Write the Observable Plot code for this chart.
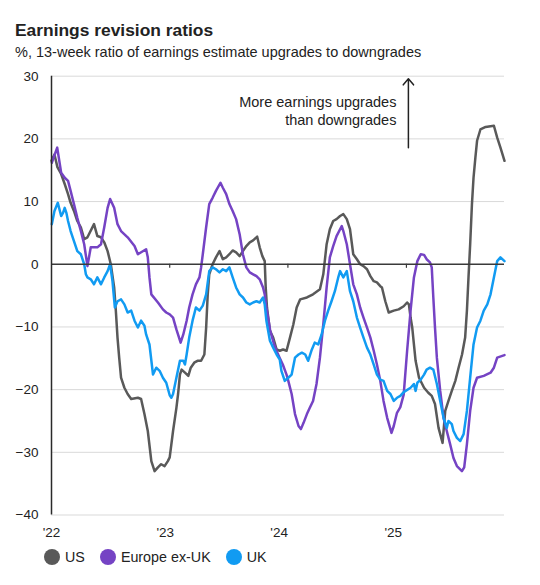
<!DOCTYPE html>
<html>
<head>
<meta charset="utf-8">
<script src="https://cdn.jsdelivr.net/npm/d3@7"></script>
<script src="https://cdn.jsdelivr.net/npm/@observablehq/plot@0.6"></script>
<style>
  body { margin: 0; background: #fff; font-family: "Liberation Sans", Arial, sans-serif; color: #222; }
  #wrap { position: relative; width: 540px; height: 585px; overflow: hidden; }
  #title { position: absolute; left: 15px; top: 20px; font-size: 17.4px; line-height: 20px; font-weight: bold; white-space: nowrap; }
  #subtitle { position: absolute; left: 15px; top: 44px; font-size: 14.5px; line-height: 17px; white-space: nowrap; }
  #chart { position: absolute; left: 0; top: 62px; }
  #legend { position: absolute; left: 44px; top: 549px; display: flex; align-items: center; height: 16px; font-size: 14.3px; }
  .item { display: flex; align-items: center; margin-right: 15px; }
  .dot { width: 16px; height: 16px; border-radius: 50%; margin-right: 5px; }
</style>
</head>
<body>
<div id="wrap">
  <div id="title">Earnings revision ratios</div>
  <div id="subtitle">%, 13-week ratio of earnings estimate upgrades to downgrades</div>
  <div id="chart"></div>
  <div id="legend"></div>
</div>
<script>
// Series names and colours
const seriesNames = ["US", "Europe ex-UK", "UK"];
const seriesColors = ["#595959", "#7543C4", "#119BF2"];

// Time positions are months after 1 Jan 2022 (fractional), values in %
const usMonths = [0,0.3,0.6,0.98,1.32,1.66,2,2.34,2.68,3.02,3.36,3.69,4.37,4.71,5.06,5.39,5.73,6.07,6.41,6.58,6.75,6.92,7.09,7.43,7.76,8.1,8.78,9.12,9.46,9.8,10.14,10.47,10.81,11.15,11.5,11.83,12,12.34,12.68,12.85,13.02,13.19,13.53,13.87,14.2,14.55,14.88,15.23,15.56,15.74,15.9,16.07,16.41,16.75,17.09,17.43,17.77,18.11,18.44,18.79,19.13,19.46,19.81,20.14,20.48,20.89,21.16,21.43,21.67,21.77,21.9,22.18,22.51,22.86,23.19,23.53,23.88,24.21,24.55,24.89,25.23,25.91,26.58,27.26,27.6,27.94,28.28,28.62,28.96,29.3,29.63,29.98,30.32,30.65,31,31.33,31.67,32.01,32.35,32.69,33.03,33.37,33.54,33.88,34.21,34.72,35.23,35.74,36.07,36.25,36.42,36.59,36.76,36.93,37.26,37.77,38.28,38.63,38.96,39.3,39.71,39.98,40.32,40.66,41,41.33,41.68,42.01,42.19,42.35,42.52,42.7,42.86,43.03,43.2,43.54,44.05,44.89,45.24,45.57,45.98];
const usValues = [16.5,17.5,15.5,14.4,12.8,11.2,9.8,8.5,6.9,5.9,4.0,4.3,6.4,4.5,4.3,3.5,2.1,0,-3.7,-7.4,-11.7,-14.9,-18.1,-19.7,-20.7,-21.5,-21.3,-21.5,-23.9,-26.6,-31.4,-33,-32.4,-31.9,-32.2,-31.4,-30.8,-26.6,-22.9,-20.7,-17.6,-16.8,-17.3,-17.8,-16.5,-15.7,-15.4,-15.4,-14.4,-10.1,-4.8,-1.6,0,1.1,2.1,0.8,1.1,1.6,2.2,1.9,1.3,2.1,2.9,3.5,3.8,4.4,2.7,1.3,0.5,-3.7,-6.9,-10.6,-11.7,-13.6,-13.8,-13.6,-13.8,-11.7,-9.6,-6.9,-5.6,-5.3,-4.8,-4.0,-1.6,3.2,5.6,6.9,7.2,7.7,8.0,7.2,5.6,1.6,0.8,0,-0.3,-0.8,-1.9,-2.7,-2.9,-3.5,-3.7,-5.9,-7.7,-7.4,-7.2,-6.7,-6.1,-6.4,-8.5,-10.1,-12.8,-15.4,-18.1,-19.7,-20.5,-21.0,-22.3,-26.1,-28.5,-23.4,-21.8,-20.2,-18.6,-16.5,-14.4,-11.7,-7.4,-2.1,3.2,9.6,13.8,17.0,19.7,21.5,21.9,22.1,20.2,18.6,16.5];

const euMonths = [0.03,0.58,0.98,1.32,1.66,2,2.34,2.68,3.02,3.36,3.69,4.04,4.71,5.06,5.39,5.73,6,6.41,6.75,7.09,7.76,8.44,8.78,9.63,9.8,9.97,10.14,10.81,11.33,11.67,12,12.34,12.68,13.09,13.36,13.7,14.04,14.38,14.72,15.06,15.23,15.4,15.74,16.07,16.41,16.75,17.19,17.43,17.77,18.11,18.44,18.79,19.13,19.46,19.81,20.14,20.48,20.82,21.16,21.5,21.67,21.84,22.2,22.6,22.9,23.2,23.5,23.88,24.04,24.38,24.72,25.06,25.3,25.57,25.91,26.25,26.58,26.93,27.26,27.6,27.94,28.28,28.62,28.96,29.47,29.63,29.98,30.32,30.65,31,31.33,31.67,32.01,32.35,32.69,33.03,33.37,33.7,34.05,34.49,34.72,35.06,35.4,35.74,36.07,36.42,36.76,37.09,37.43,37.77,38.11,38.45,38.63,38.79,38.96,39.13,39.47,39.81,40.15,40.49,40.83,41.16,41.67,41.9,42.19,42.52,42.86,43.2,43.88,44.55,44.89,45.24,45.98];
const euValues = [16.2,18.6,14.6,13.8,13.3,11.7,9.6,7.4,5.3,3.2,-0.3,2.7,2.7,3.2,5.9,9.0,10.4,9.0,6.4,5.3,4.3,2.9,1.6,2.4,1.1,-2.1,-4.8,-6.1,-7.2,-7.7,-8.0,-8.5,-10.4,-12.5,-11.2,-9.0,-6.9,-4.8,-3.2,-2.1,-0.5,1.6,5.9,9.6,10.6,11.7,13.0,12.2,11.2,9.6,8.5,7.2,4.8,1.6,-0.5,-1.3,-1.6,-1.9,-2.4,-3.7,-4.8,-6.9,-10.5,-12.8,-14.0,-15.0,-16.0,-17.6,-18.6,-20.7,-23.9,-25.8,-26.3,-25.3,-23.9,-22.9,-21.8,-19.1,-14.9,-9.6,-3.7,1.1,2.9,4.5,6.1,5.3,3.2,0,-3.2,-4.8,-6.9,-8.5,-10.1,-11.7,-13.8,-16.0,-18.6,-21.8,-24.5,-26.9,-25.8,-23.7,-22.8,-20.8,-13.8,-7.4,-2.1,0.5,1.6,1.5,0.8,0.3,-0.5,-5.3,-10.1,-14.9,-20.2,-24.5,-26.6,-28.7,-30.9,-32.2,-33.0,-32.4,-28.7,-23.4,-19.7,-18.1,-17.8,-17.3,-16.5,-14.9,-14.5];

const ukMonths = [0.03,0.3,0.64,0.98,1.15,1.32,1.49,1.66,2,2.34,2.68,3.02,3.36,3.53,3.69,4.04,4.37,4.71,5.06,5.39,5.73,6,6.24,6.48,6.75,7.09,7.43,7.76,8.1,8.44,8.78,9.12,9.46,9.63,9.97,10.31,10.64,10.98,11.33,11.67,12,12.17,12.34,12.68,13.02,13.36,13.53,13.7,14.04,14.38,14.72,15.06,15.4,15.74,16.07,16.41,16.75,17.09,17.43,17.77,18.11,18.44,18.79,19.13,19.47,19.81,20.14,20.48,20.82,21.16,21.5,21.67,21.84,22,22.18,22.51,22.86,23.19,23.36,23.7,24.04,24.38,24.72,25.06,25.4,25.74,26.08,26.41,26.75,27.09,27.43,27.77,28.11,28.45,28.79,29.13,29.3,29.63,29.98,30.32,30.65,31,31.33,31.67,32.01,32.35,32.69,33.03,33.37,33.7,34.05,34.38,34.72,35.06,35.4,35.74,36.42,36.76,36.93,37.09,37.43,37.77,38.11,38.45,38.79,39.13,39.47,39.81,40.15,40.32,40.66,40.83,41.16,41.5,41.84,42.19,42.52,42.86,43.2,43.54,43.88,44.22,44.55,44.89,45.24,45.57,45.98];
const ukValues = [6.4,8.5,9.8,7.7,8.2,9.0,8.2,6.9,5.3,3.7,2.1,1.6,0,-1.6,-2.1,-2.4,-3.2,-2.1,-3.2,-2.1,-1.1,0,-2.7,-6.9,-5.9,-5.6,-6.4,-7.7,-7.4,-9.0,-10.1,-9.0,-9.8,-11.2,-12.8,-17.6,-16.5,-17.0,-18.1,-18.9,-20.9,-21.3,-20.7,-18.1,-15.4,-15.4,-16.0,-14.4,-11.7,-9.0,-6.9,-7.4,-6.6,-4.8,-1.1,-0.5,-0.8,-1.3,-0.8,-1.1,-0.5,-2.1,-3.7,-4.8,-5.3,-6.1,-6.4,-6.1,-5.9,-6.1,-5.3,-6.4,-9.0,-10.6,-12.2,-13.3,-14.4,-15.2,-17.0,-18.6,-18.1,-17.6,-14.9,-14.4,-14.1,-14.4,-15.4,-13.8,-12.5,-12.8,-11.2,-9.0,-7.4,-5.9,-4.3,-2.0,-1.1,-2.1,-1.1,-4.3,-5.9,-8.5,-10.1,-11.7,-13.3,-14.4,-16.0,-17.6,-18.4,-18.6,-20.2,-20.7,-21.8,-21.3,-21.0,-20.4,-19.7,-19.1,-20.2,-18.9,-18.4,-17.6,-16.8,-16.5,-16.8,-19.1,-21.8,-24.5,-26.1,-25.0,-25.5,-26.6,-27.7,-28.2,-27.1,-23.4,-18.1,-12.8,-10.1,-9.0,-7.4,-6.4,-4.8,-2.1,0.5,1.1,0.5];

// Axis ticks and labels
const yTicks = [30, 20, 10, 0, -10, -20, -30, -40];
const yearTicks = ["2022-01-01", "2023-01-01", "2024-01-01", "2025-01-01"];
const yearLabels = ["'22", "'23", "'24", "'25"];

// Annotation (months after 1 Jan 2022, value in %)
const noteText = "More earnings upgrades\nthan downgrades";
const noteMonth = 35.0, noteValue = 24.5;
const arrowMonth = 36.2, arrowFrom = 18.6, arrowTo = 29.6;

const toDate = m => {
  const w = Math.floor(m);
  return new Date(Date.UTC(2022, w, 1) + (m - w) * 30.44 * 864e5);
};

const rows = [];
[[usMonths, usValues], [euMonths, euValues], [ukMonths, ukValues]].forEach(([ms, vs], i) => {
  ms.forEach((m, j) => rows.push({series: seriesNames[i], date: toDate(m), value: vs[j]}));
});

const xStart = new Date("2022-01-01");
const xEnd = d3.max(rows, d => d.date);
const years = yearTicks.map(s => new Date(s));
const font = "'Liberation Sans', Arial, sans-serif";

const chart = Plot.plot({
  width: 540,
  height: 482,
  marginLeft: 51,
  marginRight: 36,
  marginTop: 13.7,
  marginBottom: 29.5,
  style: {fontFamily: font, fontSize: "13.5px", color: "#222", background: "transparent"},
  x: {type: "utc", domain: [xStart, xEnd], axis: null},
  y: {domain: [-40, 30], axis: null},
  color: {domain: seriesNames, range: seriesColors},
  marks: [
    Plot.ruleY(yTicks.filter(v => v !== 0), {stroke: "#d9d9d9", strokeWidth: 1}),
    Plot.axisY(yTicks, {tickSize: 0, tickPadding: 13, fontSize: 13.5, label: null, fill: "#222"}),
    ...years.map((d, i) => Plot.text([{d, t: yearLabels[i]}], {
      x: "d", y: () => -40, text: "t", dy: 18, dx: -4.4 * i,
      fontSize: 13.5, fill: "#222", textAnchor: "middle"
    })),
    Plot.line(rows, {
      x: "date", y: "value", z: "series", stroke: "series",
      strokeWidth: 2.5, strokeLinejoin: "round", strokeLinecap: "round"
    }),
    Plot.ruleY([0], {stroke: "#3a3a3a", strokeWidth: 1.5}),
    Plot.ruleX(years.slice(1).map(d => ({d, y1: 0, y2: -0.65})), {x: "d", y1: "y1", y2: "y2", stroke: "#3a3a3a", strokeWidth: 1.2}),
    Plot.ruleX([xStart], {stroke: "#2a2a2a", strokeWidth: 1.5}),
    Plot.text([{d: toDate(noteMonth), v: noteValue, t: noteText}], {
      x: "d", y: "v", text: "t", textAnchor: "end", lineAnchor: "middle",
      lineHeight: 1.24, fontSize: 14.5, fill: "#222"
    }),
    Plot.arrow([{d: toDate(arrowMonth), a: arrowFrom, b: arrowTo}], {
      x1: "d", x2: "d", y1: "a", y2: "b", stroke: "#222", strokeWidth: 1.5,
      headAngle: 80, headLength: 8
    })
  ]
});
document.getElementById("chart").appendChild(chart);

const legend = document.getElementById("legend");
seriesNames.forEach((name, i) => {
  const item = document.createElement("div");
  item.className = "item";
  const dot = document.createElement("span");
  dot.className = "dot";
  dot.style.background = seriesColors[i];
  const label = document.createElement("span");
  label.textContent = name;
  item.appendChild(dot);
  item.appendChild(label);
  legend.appendChild(item);
});
</script>
</body>
</html>
